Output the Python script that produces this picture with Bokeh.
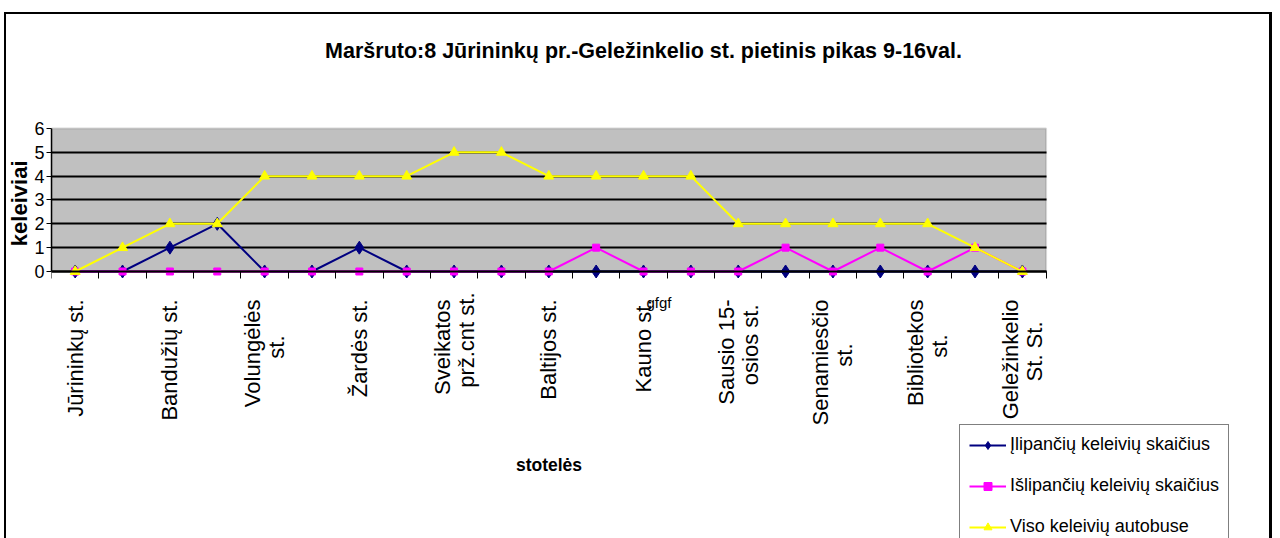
import math
from bokeh.plotting import figure
from bokeh.models import Range1d, FixedTicker, Legend, LegendItem, BoxAnnotation, Label, Title
from bokeh.embed import file_html
from bokeh.resources import INLINE

# ---- data ----
stop_index = list(range(1, 22))
stop_labels = {
    1: "Jūrininkų st.",
    3: "Bandužių st.",
    5: "Volungėlės\nst.",
    7: "Žardės st.",
    9: "Sveikatos\nprž.cnt st.",
    11: "Baltijos st.",
    13: "Kauno st.",
    15: "Sausio 15-\nosios st.",
    17: "Senamiesčio\nst.",
    19: "Bibliotekos\nst.",
    21: "Geležinkelio\nSt. St.",
}
boarding = [0, 0, 1, 2, 0, 0, 1, 0, 0, 0, 0, 0, 0, 0, 0, 0, 0, 0, 0, 0, 0]
alighting = [0, 0, 0, 0, 0, 0, 0, 0, 0, 0, 0, 1, 0, 0, 0, 1, 0, 1, 0, 1, 0]
on_bus = [0, 1, 2, 2, 4, 4, 4, 4, 5, 5, 4, 4, 4, 4, 2, 2, 2, 2, 2, 1, 0]
y_ticks = [0, 1, 2, 3, 4, 5, 6]
series_names = ["Įlipančių keleivių skaičius", "Išlipančių keleivių skaičius", "Viso keleivių autobuse"]
title_text = "Maršruto:8 Jūrininkų pr.-Geležinkelio st. pietinis pikas 9-16val."
stray_text = "gfgf"
x_title = "stotelės"
y_title = "keleiviai"

FONT = "Liberation Sans"
LABEL_SIZE = "22px"

# ---- layout helpers (pixels) ----
PX_PER_X = 997 / 21             # horizontal scale of the plot area
LINE_GAP = 24                   # distance between the two lines of a tick label
BASE_STANDOFF = 21
AXIS_FROM_FRAME_BOTTOM = 267    # y = 0 sits this many px above the frame bottom
# extra distance from the axis so a short second line sits centred on the first
second_line_shift = {5: 43, 9: 0, 15: 12, 17: 51, 19: 42, 21: 29}

x_lo, x_hi = stop_index[0] - 0.5, stop_index[-1] + 0.5
y_lo, y_hi = y_ticks[0], y_ticks[-1]
half_gap = (LINE_GAP / 2) / PX_PER_X

# frame covers the whole canvas right of the y axis; plot area is bounded by styling
p = figure(width=1268, height=526, output_backend="svg", toolbar_location=None, title=None,
           x_range=Range1d(0.5, 26.281), y_range=Range1d(-11.203, 10.867),
           min_border_left=44, min_border_right=0, min_border_top=0, min_border_bottom=0)
p.margin = (12, 0, 0, 4)
p.styles = {"box-shadow": "inset 2px 2px 0 0 #000, inset -3px 0 0 0 #000"}
p.border_fill_color = None
p.background_fill_color = None
p.outline_line_color = None

# plot area background
p.add_layout(BoxAnnotation(left=x_lo, right=x_hi, bottom=y_lo, top=y_hi,
                           fill_color="#C0C0C0", fill_alpha=1,
                           line_color="#808080", line_width=2, level="image"))

# grid
p.xgrid.visible = False
p.ygrid.ticker = FixedTicker(ticks=y_ticks[:-1])
p.ygrid.grid_line_color = "black"
p.ygrid.grid_line_width = 2
for g in p.ygrid:
    try:
        g.cross_bounds = (x_lo, x_hi)
    except AttributeError:
        pass

# y axis
p.yaxis.bounds = (y_lo, y_hi)
p.yaxis.ticker = FixedTicker(ticks=y_ticks)
p.yaxis.major_label_text_font = FONT
p.yaxis.major_label_text_font_size = "18px"
p.yaxis.major_label_text_color = "black"
p.yaxis.major_tick_out = 5
p.yaxis.major_tick_in = 0
p.yaxis.minor_tick_out = 0
p.yaxis.minor_tick_in = 0
p.yaxis.major_tick_line_color = "black"
p.yaxis.axis_line_color = "black"
p.yaxis.axis_line_width = 1.5
p.yaxis.major_label_standoff = 2

# y axis title, placed alongside the plot area (not the whole frame)
p.add_layout(Title(text=y_title, align="right", offset=148, vertical_align="bottom", standoff=0,
                   text_font=FONT, text_font_size="22px", text_font_style="bold",
                   text_color="black"), "left")

# split tick labels into first lines (axis) and second lines (rotated labels)
first_ticks, first_labels = [], {}
second_lines = []
for k in sorted(stop_labels):
    lines = stop_labels[k].split("\n")
    if len(lines) == 1:
        first_ticks.append(k)
        first_labels[k] = lines[0]
    else:
        t1 = k - half_gap
        first_ticks.append(t1)
        first_labels[t1] = lines[0]
        second_lines.append((k + half_gap, lines[1], second_line_shift[k]))

# x axis (placed at y = 0)
p.xaxis.fixed_location = 0
p.xaxis.bounds = (x_lo, x_hi)
p.xaxis.ticker = FixedTicker(ticks=first_ticks,
                             minor_ticks=[i - 0.5 for i in stop_index] + [x_hi])
p.xaxis.major_label_overrides = first_labels
p.xaxis.major_label_orientation = math.pi / 2
p.xaxis.major_label_text_font = FONT
p.xaxis.major_label_text_font_size = LABEL_SIZE
p.xaxis.major_label_text_color = "black"
p.xaxis.major_label_standoff = BASE_STANDOFF
p.xaxis.major_tick_out = 0
p.xaxis.major_tick_in = 0
p.xaxis.minor_tick_in = 0
p.xaxis.minor_tick_out = 7
p.xaxis.minor_tick_line_color = "black"
p.xaxis.axis_line_color = "black"
p.xaxis.axis_line_width = 2
p.xaxis.axis_label = x_title
p.xaxis.axis_label_text_font = FONT
p.xaxis.axis_label_text_font_size = "17.5px"
p.xaxis.axis_label_text_font_style = "bold"
p.xaxis.axis_label_text_color = "black"
p.xaxis.axis_label_standoff = 27

# second lines of two-line station names, centred along the first line
for tick, text, shift in second_lines:
    p.add_layout(Label(x=tick, y=AXIS_FROM_FRAME_BOTTOM - BASE_STANDOFF - shift,
                       x_units="data", y_units="screen", text=text, angle=math.pi / 2,
                       text_align="right", text_baseline="middle",
                       text_font=FONT, text_font_size=LABEL_SIZE, text_color="black"))

# series
r1l = p.line(stop_index, boarding, line_color="#000080", line_width=2)
r1s = p.scatter(stop_index, boarding, marker="diamond", size=13, color="#000080")
r2l = p.line(stop_index, alighting, line_color="#FF00FF", line_width=2)
r2s = p.scatter(stop_index, alighting, marker="square", size=7, color="#FF00FF")
r3l = p.line(stop_index, on_bus, line_color="#FFFF00", line_width=2)
r3s = p.scatter(stop_index, on_bus, marker="triangle", size=10, color="#FFFF00")

legend = Legend(items=[
    LegendItem(label=series_names[0], renderers=[r1l, r1s]),
    LegendItem(label=series_names[1], renderers=[r2l, r2s]),
    LegendItem(label=series_names[2], renderers=[r3l, r3s]),
], location=(908, -9))
legend.label_text_font = FONT
legend.label_text_font_size = "18px"
legend.label_text_color = "black"
legend.glyph_width = 37
legend.glyph_height = 20
legend.label_height = 20
legend.spacing = 20
legend.padding = 9
legend.margin = 0
legend.label_standoff = 4
legend.border_line_color = "black"
legend.border_line_width = 1
legend.background_fill_color = "white"
legend.background_fill_alpha = 1
p.add_layout(legend, "center")

# chart title (centred on the whole chart)
p.add_layout(Label(x=592, y=488, x_units="screen", y_units="screen", text=title_text,
                   text_font=FONT, text_font_size="21.5px", text_font_style="bold",
                   text_align="center", text_baseline="middle", text_color="black"))

p.add_layout(Label(x=595, y=245, x_units="screen", y_units="screen", text=stray_text,
                   text_font=FONT, text_font_size="15px", text_baseline="top",
                   text_color="black"))

open("out.html", "w").write(file_html(p, INLINE))
